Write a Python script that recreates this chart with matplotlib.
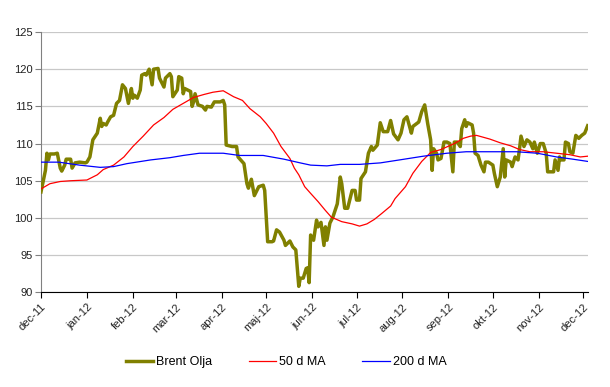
import pandas as pd
import matplotlib
matplotlib.use("Agg")
import matplotlib.pyplot as plt

# Brent Olja, daily close
brent_dates = [
    "2011-12-01", "2011-12-04", "2011-12-05", "2011-12-06", "2011-12-07", "2011-12-10",
    "2011-12-12", "2011-12-14", "2011-12-15", "2011-12-17", "2011-12-18", "2011-12-21",
    "2011-12-22", "2011-12-24", "2011-12-27", "2011-12-31", "2012-01-01", "2012-01-03",
    "2012-01-05", "2012-01-08", "2012-01-10", "2012-01-11", "2012-01-12", "2012-01-14",
    "2012-01-15", "2012-01-17", "2012-01-19", "2012-01-21", "2012-01-23", "2012-01-25",
    "2012-01-27", "2012-01-29", "2012-01-31", "2012-02-01", "2012-02-02", "2012-02-04",
    "2012-02-06", "2012-02-07", "2012-02-09", "2012-02-10", "2012-02-12", "2012-02-14",
    "2012-02-15", "2012-02-18", "2012-02-19", "2012-02-22", "2012-02-23", "2012-02-26",
    "2012-02-27", "2012-02-28", "2012-03-02", "2012-03-03", "2012-03-05", "2012-03-06",
    "2012-03-07", "2012-03-11", "2012-03-12", "2012-03-13", "2012-03-14", "2012-03-16",
    "2012-03-19", "2012-03-21", "2012-03-22", "2012-03-25", "2012-03-27", "2012-03-31",
    "2012-04-02", "2012-04-03", "2012-04-04", "2012-04-08", "2012-04-11", "2012-04-12",
    "2012-04-16", "2012-04-18", "2012-04-19", "2012-04-21", "2012-04-23", "2012-04-26",
    "2012-04-29", "2012-04-30", "2012-05-02", "2012-05-05", "2012-05-06", "2012-05-08",
    "2012-05-10", "2012-05-13", "2012-05-14", "2012-05-17", "2012-05-19", "2012-05-21",
    "2012-05-23", "2012-05-24", "2012-05-26", "2012-05-28", "2012-05-29", "2012-05-30",
    "2012-05-31", "2012-06-02", "2012-06-04", "2012-06-05", "2012-06-07", "2012-06-09",
    "2012-06-10", "2012-06-11", "2012-06-13", "2012-06-15", "2012-06-18", "2012-06-20",
    "2012-06-21", "2012-06-23", "2012-06-25", "2012-06-28", "2012-06-30", "2012-07-01",
    "2012-07-03", "2012-07-04", "2012-07-07", "2012-07-09", "2012-07-11", "2012-07-12",
    "2012-07-15", "2012-07-17", "2012-07-19", "2012-07-22", "2012-07-24", "2012-07-26",
    "2012-07-29", "2012-07-31", "2012-08-02", "2012-08-04", "2012-08-07", "2012-08-08",
    "2012-08-12", "2012-08-14", "2012-08-16", "2012-08-18", "2012-08-20", "2012-08-21",
    "2012-08-22", "2012-08-24", "2012-08-25", "2012-08-27", "2012-08-29", "2012-08-31",
    "2012-09-02", "2012-09-04", "2012-09-05", "2012-09-07", "2012-09-09", "2012-09-10",
    "2012-09-12", "2012-09-13", "2012-09-14", "2012-09-17", "2012-09-18", "2012-09-19",
    "2012-09-21", "2012-09-23", "2012-09-25", "2012-09-26", "2012-09-28", "2012-10-01",
    "2012-10-02", "2012-10-04", "2012-10-06", "2012-10-08", "2012-10-09", "2012-10-10",
    "2012-10-13", "2012-10-14", "2012-10-16", "2012-10-18", "2012-10-19", "2012-10-20",
    "2012-10-22", "2012-10-24", "2012-10-26", "2012-10-28", "2012-10-29", "2012-10-31",
    "2012-11-02", "2012-11-04", "2012-11-06", "2012-11-07", "2012-11-11", "2012-11-12",
    "2012-11-14", "2012-11-15", "2012-11-16", "2012-11-18", "2012-11-19", "2012-11-21",
    "2012-11-22", "2012-11-24", "2012-11-26", "2012-11-28", "2012-11-30", "2012-12-02",
    "2012-12-04",
]
brent = [
    103.5, 106.4, 108.7, 107.8, 108.6, 108.6,
    108.7, 106.7, 106.3, 107.1, 107.9, 107.9,
    106.7, 107.4, 107.5, 107.4, 107.5, 108.2,
    110.5, 111.4, 113.4, 112.3, 112.7, 112.5,
    112.9, 113.6, 113.8, 115.4, 115.8, 117.9,
    117.4, 115.4, 117.4, 116.1, 116.5, 116.1,
    117.2, 119.2, 119.4, 119.2, 120.0, 117.9,
    120.0, 120.1, 118.8, 117.6, 118.8, 119.4,
    119.0, 116.3, 117.2, 119.0, 118.8, 116.7,
    117.4, 117.0, 115.0, 115.6, 116.7, 115.2,
    115.0, 114.5, 115.0, 114.9, 115.6, 115.6,
    115.8, 115.2, 109.8, 109.6, 109.6, 108.2,
    107.3, 104.6, 104.0, 105.2, 103.0, 104.2,
    104.4, 103.7, 96.8, 96.8, 96.9, 98.4,
    98.1, 97.0, 96.3, 96.9, 96.1, 95.7,
    90.8, 91.9, 91.9, 93.2, 93.3, 91.3,
    97.7, 97.0, 99.7, 98.8, 99.4, 96.3,
    98.8, 97.0, 99.3, 100.1, 101.9, 105.5,
    104.6, 101.3, 101.3, 103.7, 103.7, 102.4,
    102.4, 105.3, 106.2, 108.7, 109.6, 109.1,
    109.8, 112.8, 111.6, 111.6, 113.1, 111.3,
    110.5, 111.4, 113.2, 113.6, 111.4, 112.3,
    112.9, 114.3, 115.2, 112.7, 110.5, 106.4,
    109.3, 108.7, 107.8, 108.0, 110.2, 110.2,
    110.0, 106.2, 110.2, 110.2, 109.6, 112.0,
    113.2, 112.3, 112.8, 112.5, 111.4, 108.7,
    108.4, 107.1, 106.2, 107.5, 107.5, 107.1,
    106.0, 104.2, 105.5, 109.3, 105.5, 107.8,
    107.5, 106.9, 108.2, 107.8, 109.3, 111.0,
    109.6, 110.5, 110.2, 109.3, 110.2, 108.7,
    110.0, 110.0, 108.7, 106.2, 106.2, 107.8,
    106.4, 108.2, 107.8, 107.8, 110.2, 110.0,
    108.9, 108.7, 111.1, 110.7, 111.1, 111.4,
    112.4,
]

# 50 d MA
ma50_dates = [
    "2011-12-01", "2011-12-07", "2011-12-14", "2011-12-21", "2012-01-01", "2012-01-08",
    "2012-01-12", "2012-01-19", "2012-01-26", "2012-02-01", "2012-02-08", "2012-02-15",
    "2012-02-22", "2012-02-28", "2012-03-06", "2012-03-13", "2012-03-20", "2012-03-26",
    "2012-04-02", "2012-04-09", "2012-04-15", "2012-04-20", "2012-04-27", "2012-05-01",
    "2012-05-06", "2012-05-11", "2012-05-17", "2012-05-20", "2012-05-23", "2012-05-27",
    "2012-05-31", "2012-06-05", "2012-06-10", "2012-06-14", "2012-06-21", "2012-06-28",
    "2012-07-03", "2012-07-08", "2012-07-13", "2012-07-18", "2012-07-24", "2012-07-27",
    "2012-08-03", "2012-08-08", "2012-08-14", "2012-08-20", "2012-08-27", "2012-09-05",
    "2012-09-11", "2012-09-16", "2012-09-20", "2012-09-29", "2012-10-06", "2012-10-13",
    "2012-10-19", "2012-10-26", "2012-11-04", "2012-11-13", "2012-11-22", "2012-11-29",
    "2012-12-04",
]
ma50 = [
    103.9, 104.6, 104.9, 105.0, 105.1, 105.8,
    106.5, 107.1, 108.2, 109.6, 111.0, 112.5,
    113.5, 114.6, 115.4, 116.2, 116.6, 116.9,
    117.1, 116.3, 115.8, 114.7, 113.6, 112.7,
    111.4, 109.6, 108.0, 106.7, 105.8, 104.2,
    103.3, 102.2, 101.0, 100.1, 99.5, 99.2,
    98.9, 99.2, 99.8, 100.6, 101.6, 102.6,
    104.2, 106.0, 107.6, 108.8, 109.2, 110.0,
    110.7, 111.0, 111.1, 110.6, 110.1, 109.7,
    109.2, 108.9, 108.9, 108.7, 108.5, 108.2,
    108.3,
]

# 200 d MA
ma200_dates = [
    "2011-12-01", "2011-12-13", "2011-12-27", "2012-01-10", "2012-01-19", "2012-01-28",
    "2012-02-13", "2012-02-26", "2012-03-06", "2012-03-17", "2012-04-02", "2012-04-13",
    "2012-04-29", "2012-05-13", "2012-05-24", "2012-05-31", "2012-06-11", "2012-06-20",
    "2012-07-03", "2012-07-17", "2012-07-30", "2012-08-15", "2012-08-31", "2012-09-13",
    "2012-09-29", "2012-10-17", "2012-10-31", "2012-11-13", "2012-11-24", "2012-12-04",
]
ma200 = [
    107.5, 107.5, 107.1, 106.8, 106.9, 107.3,
    107.8, 108.1, 108.4, 108.7, 108.7, 108.4,
    108.4, 107.9, 107.4, 107.1, 107.0, 107.2,
    107.2, 107.4, 107.8, 108.3, 108.7, 108.9,
    108.9, 108.9, 108.7, 108.2, 107.9, 107.6,
]

month_names = ["jan", "feb", "mar", "apr", "maj", "jun",
               "jul", "aug", "sep", "okt", "nov", "dec"]

plt.rcParams["font.family"] = ["Liberation Sans", "DejaVu Sans"]

fig = plt.figure(figsize=(6.1, 3.87), dpi=100)
ax = fig.add_axes([0.0672, 0.2447, 0.8962, 0.6726])

ax.plot(pd.to_datetime(brent_dates), brent, color="#808000", lw=2.5,
        label="Brent Olja", zorder=3)
ax.plot(pd.to_datetime(ma50_dates), ma50, color="#ff0000", lw=0.9,
        label="50 d MA", zorder=4)
ax.plot(pd.to_datetime(ma200_dates), ma200, color="#0000ff", lw=0.9,
        label="200 d MA", zorder=4)

ax.set_ylim(90, 125)
ax.set_yticks(range(90, 126, 5))
ax.set_xlim(pd.Timestamp("2011-12-01"), pd.Timestamp("2012-12-04"))

ticks = pd.date_range("2011-12-01", "2012-12-01", freq="MS")
ax.set_xticks(ticks)
ax.set_xticklabels([f"{month_names[t.month - 1]}-{t.strftime('%y')}" for t in ticks],
                   rotation=45, ha="right", rotation_mode="anchor")

ax.grid(axis="y", color="#c8c8c8", lw=0.9)
ax.set_axisbelow(True)
for s in ("top", "right"):
    ax.spines[s].set_visible(False)
ax.spines["left"].set_color("#808080")
ax.spines["bottom"].set_color("black")
ax.tick_params(axis="y", length=4, color="#808080", labelsize=8, labelcolor="#222222", pad=2)
ax.tick_params(axis="x", length=4, color="black", labelsize=8, labelcolor="#222222", pad=3)

fig.legend(loc="center", bbox_to_anchor=(0.469, 0.0646), ncol=3, frameon=False,
           fontsize=9, handlelength=2.2, columnspacing=2.9, handletextpad=0.25)

fig.savefig("out.png", dpi=100)
